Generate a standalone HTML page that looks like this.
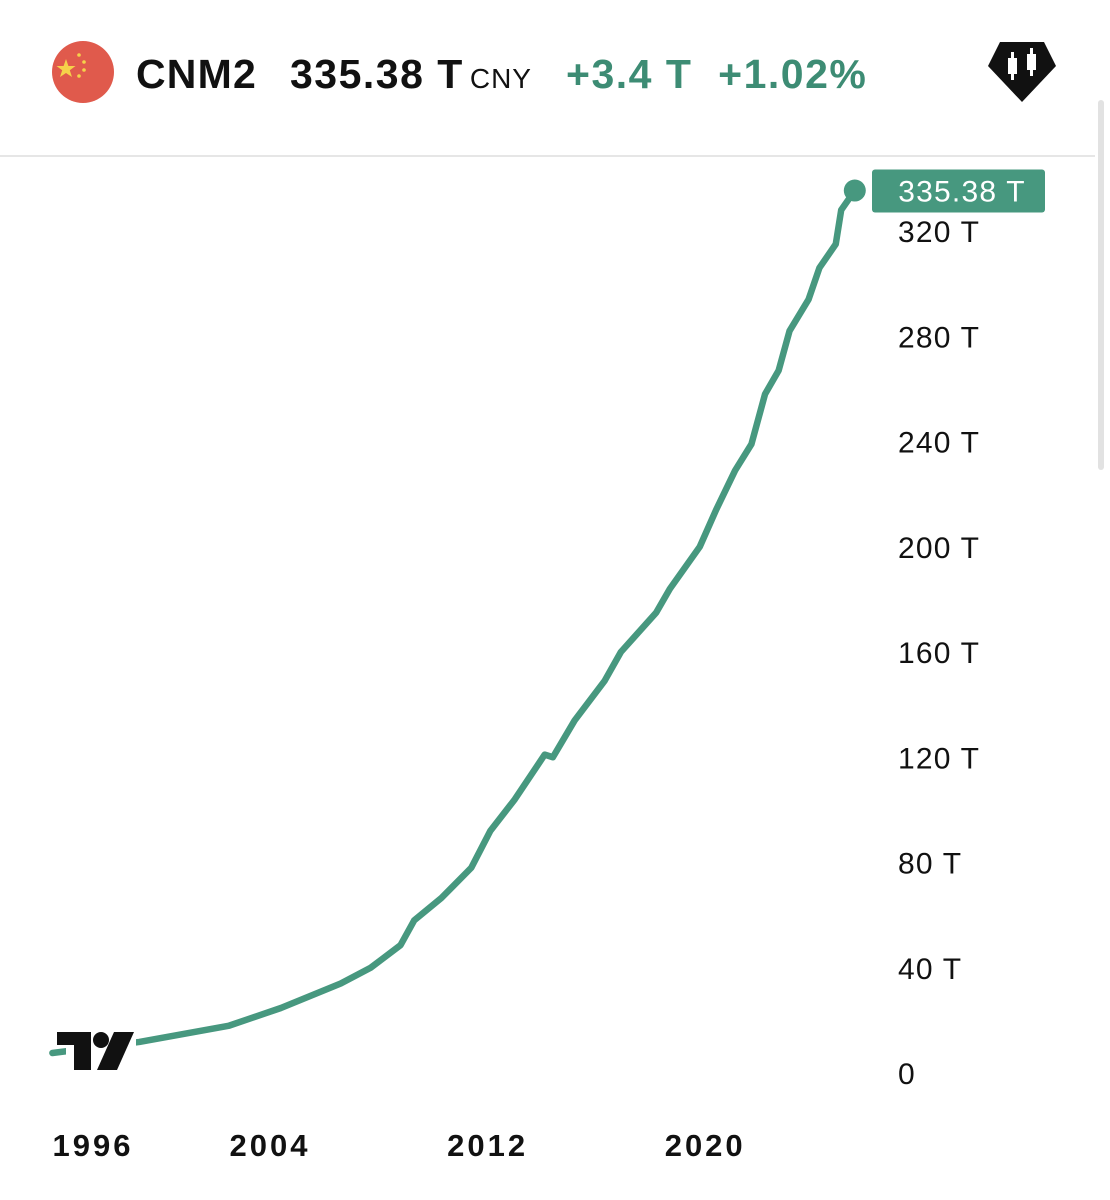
<!DOCTYPE html>
<html><head><meta charset="utf-8"><style>
body{margin:0;width:1110px;height:1200px;background:#fff;font-family:"Liberation Sans",sans-serif;overflow:hidden;position:relative}
.t{position:absolute;white-space:nowrap}
</style></head><body>
<div>
<svg class="t" style="left:52px;top:41px" width="62" height="62"><circle cx="31" cy="31" r="31" fill="#e05a4c"/><polygon points="14,18 16.4,25 23.5,25 17.8,29.3 20,36 14,32 8,36 10.2,29.3 4.5,25 11.6,25" fill="#f5d24a"/><circle cx="27" cy="14" r="1.8" fill="#f5d24a"/><circle cx="32" cy="21" r="1.8" fill="#f5d24a"/><circle cx="32" cy="29" r="1.8" fill="#f5d24a"/><circle cx="27" cy="35" r="1.8" fill="#f5d24a"/></svg>
<div class="t" style="left:136px;top:51px;font-size:41px;font-weight:bold;color:#111;letter-spacing:1.2px">CNM2</div>
<div class="t" style="left:290px;top:51px;font-size:41px;font-weight:bold;color:#111;letter-spacing:1.5px">335.38 T<span style="font-size:28px;font-weight:normal;margin-left:6px;letter-spacing:1px">CNY</span></div>
<div class="t" style="left:566px;top:51px;font-size:41px;font-weight:bold;color:#3d8c74;letter-spacing:1.5px">+3.4 T&nbsp; +1.02%</div>
<svg class="t" style="left:988px;top:42px" width="68" height="62"><polygon points="12,0 56,0 68,24 34,60 0,24" fill="#111"/><rect x="20" y="16" width="9" height="16" fill="#fff"/><rect x="39" y="12" width="9" height="16" fill="#fff"/><line x1="24.5" y1="10" x2="24.5" y2="38" stroke="#fff" stroke-width="3"/><line x1="43.5" y1="6" x2="43.5" y2="34" stroke="#fff" stroke-width="3"/></svg>
</div>
<div style="position:absolute;left:0;top:155px;width:1095px;height:2px;background:#e6e6e6"></div>
<div style="position:absolute;left:1098px;top:100px;width:6px;height:370px;background:#e2e2e2;border-radius:3px"></div>
<svg id="chart" class="t" style="left:0;top:0" width="1110" height="1200"></svg>
<script>
const years=[1996,1999.2,2002.5,2004.4,2006.6,2007.7,2008.8,2009.3,2010.3,2011.4,2012.1,2013,2014.1,2014.4,2015.2,2016.3,2016.9,2018.2,2018.7,2019.8,2020.4,2021.1,2021.7,2022.2,2022.7,2023.1,2023.8,2024.2,2024.8,2025,2025.5];
const values=[7.6,11.8,18,24.7,34,40,48.6,58,66.5,78,92,104,121,120,134,149,160,175,184,200,214,229,239,258,267,282,294,306,315,328,335.38];
const yTicks=[0,40,80,120,160,200,240,280,320];
const xTicks=[1996,2004,2012,2020];
const lastLabel="335.38 T";
const NS="http://www.w3.org/2000/svg";
const svg=document.getElementById('chart');
const X=y=>270+(y-2004)*27.2;
const Y=v=>1073-v*105.25/40;
function mk(t,a){const e=document.createElementNS(NS,t);for(const k in a)e.setAttribute(k,a[k]);svg.appendChild(e);return e;}
yTicks.forEach(v=>{const e=mk('text',{x:898,y:Y(v)+11,'font-size':30,fill:'#111','font-family':'Liberation Sans','letter-spacing':1.2});e.textContent=v===0?'0':v+' T';

});
xTicks.forEach(yr=>{const cx=Math.max(X(yr),93);const e=mk('text',{x:cx,y:1156,'font-size':31,'font-weight':'bold',fill:'#111','text-anchor':'middle','font-family':'Liberation Sans','letter-spacing':3});e.textContent=yr;

});
const p=mk('polyline',{points:years.map((y,i)=>X(y)+','+Y(values[i])).join(' '),fill:'none',stroke:'#47987f','stroke-width':6.5,'stroke-linejoin':'round','stroke-linecap':'round'});


const lx=X(years[years.length-1]),ly=Y(values[values.length-1]);
const d=mk('circle',{cx:lx,cy:ly,r:11,fill:'#47987f'});


const r=mk('rect',{x:872,y:ly-21,width:173,height:43,rx:3,fill:'#47987f'});


const lt=mk('text',{x:962,y:ly+11,'font-size':30,fill:'#fff','text-anchor':'middle','font-family':'Liberation Sans','letter-spacing':1.2});lt.textContent=lastLabel;


const g=mk('g',{fill:'#111'});


g.innerHTML='<rect x="66" y="1028" width="70" height="46" fill="#fff"/><rect x="57" y="1032" width="34" height="13"/><rect x="74" y="1032" width="17" height="38"/><circle cx="101" cy="1040" r="8"/><polygon points="114,1032 134,1032 117,1070 97,1070"/>';
</script>
</body></html>
